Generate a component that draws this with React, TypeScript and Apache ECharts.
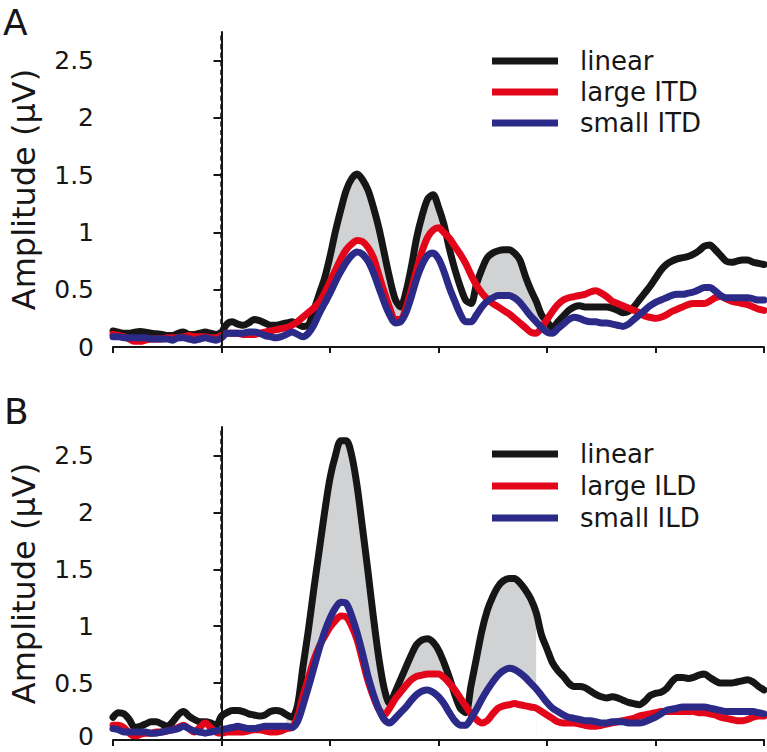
import React, { useEffect, useRef } from "react";
import * as echarts from "echarts";

// time axis (ms), sampled every 0.1 ms from -2 to 10
const time: number[] = Array.from({ length: 121 }, (_, i) => Math.round((-2 + i * 0.1) * 10) / 10);

// Panel A (ITD)
const linearA = [
  0.14, 0.13, 0.12, 0.12, 0.13, 0.135, 0.13, 0.12, 0.115, 0.11,
  0.10, 0.10, 0.12, 0.13, 0.11, 0.11, 0.12, 0.13, 0.12, 0.11,
  0.13, 0.20, 0.22, 0.20, 0.19, 0.21, 0.24, 0.23, 0.21, 0.19,
  0.19, 0.20, 0.21, 0.22, 0.20, 0.18, 0.19, 0.32, 0.46, 0.60,
  0.79, 1.01, 1.20, 1.37, 1.47, 1.51, 1.46, 1.37, 1.22, 1.04,
  0.82, 0.60, 0.42, 0.35, 0.48, 0.70, 0.96, 1.15, 1.29, 1.33,
  1.22, 1.07, 0.86, 0.68, 0.53, 0.41, 0.38, 0.55, 0.68, 0.78,
  0.82, 0.84, 0.85, 0.85, 0.82, 0.76, 0.62, 0.50, 0.40, 0.28,
  0.22, 0.17, 0.22, 0.27, 0.32, 0.35, 0.36, 0.35, 0.35, 0.35,
  0.35, 0.35, 0.34, 0.32, 0.30, 0.31, 0.35, 0.41, 0.47, 0.53,
  0.60, 0.67, 0.72, 0.75, 0.77, 0.78, 0.79, 0.81, 0.84, 0.88,
  0.89, 0.85, 0.80, 0.75, 0.74, 0.75, 0.76, 0.76, 0.74, 0.73,
  0.72,
];
const largeITD = [
  0.11, 0.10, 0.09, 0.07, 0.05, 0.05, 0.06, 0.07, 0.07, 0.07,
  0.08, 0.08, 0.08, 0.09, 0.10, 0.09, 0.09, 0.09, 0.08, 0.08,
  0.10, 0.12, 0.12, 0.12, 0.11, 0.11, 0.11, 0.12, 0.13, 0.14,
  0.15, 0.16, 0.17, 0.19, 0.22, 0.26, 0.30, 0.34, 0.39, 0.47,
  0.57, 0.67, 0.77, 0.85, 0.90, 0.93, 0.92, 0.87, 0.78, 0.63,
  0.48, 0.34, 0.24, 0.24, 0.34, 0.50, 0.68, 0.84, 0.96, 1.02,
  1.04, 1.00, 0.95, 0.88, 0.81, 0.73, 0.63, 0.54, 0.47, 0.42,
  0.38, 0.35, 0.32, 0.29, 0.25, 0.21, 0.17, 0.13, 0.12, 0.17,
  0.24, 0.31, 0.37, 0.41, 0.43, 0.44, 0.45, 0.46, 0.48, 0.49,
  0.47, 0.44, 0.40, 0.38, 0.36, 0.34, 0.32, 0.30, 0.27, 0.26,
  0.25, 0.26, 0.28, 0.31, 0.33, 0.35, 0.37, 0.38, 0.38, 0.38,
  0.40, 0.43, 0.44, 0.42, 0.40, 0.39, 0.38, 0.37, 0.35, 0.33,
  0.32,
];
const smallITD = [
  0.09, 0.09, 0.08, 0.08, 0.08, 0.08, 0.08, 0.07, 0.07, 0.07,
  0.07, 0.06, 0.08, 0.08, 0.07, 0.06, 0.07, 0.08, 0.07, 0.06,
  0.08, 0.12, 0.12, 0.12, 0.12, 0.13, 0.13, 0.12, 0.10, 0.09,
  0.08, 0.09, 0.11, 0.13, 0.11, 0.09, 0.12, 0.19, 0.29, 0.38,
  0.47, 0.57, 0.66, 0.74, 0.80, 0.83, 0.81, 0.75, 0.65, 0.52,
  0.39, 0.28, 0.21, 0.22, 0.30, 0.44, 0.60, 0.72, 0.80, 0.82,
  0.77, 0.66, 0.52, 0.40, 0.29, 0.22, 0.22, 0.28, 0.35, 0.40,
  0.43, 0.45, 0.45, 0.45, 0.43, 0.39, 0.33, 0.27, 0.22, 0.17,
  0.13, 0.12, 0.16, 0.20, 0.24, 0.26, 0.25, 0.23, 0.22, 0.22,
  0.21, 0.21, 0.20, 0.19, 0.18, 0.20, 0.24, 0.28, 0.32, 0.36,
  0.39, 0.41, 0.43, 0.45, 0.46, 0.46, 0.47, 0.48, 0.50, 0.52,
  0.52, 0.49, 0.45, 0.43, 0.43, 0.43, 0.43, 0.43, 0.42, 0.41,
  0.41,
];

// Panel B (ILD)
const linearB = [
  0.20, 0.24, 0.23, 0.18, 0.11, 0.12, 0.14, 0.16, 0.16, 0.14,
  0.12, 0.16, 0.22, 0.25, 0.21, 0.18, 0.16, 0.16, 0.15, 0.13,
  0.21, 0.24, 0.26, 0.26, 0.25, 0.23, 0.22, 0.21, 0.22, 0.25,
  0.26, 0.25, 0.22, 0.20, 0.30, 0.64, 0.96, 1.32, 1.66, 2.00,
  2.30, 2.50, 2.63, 2.63, 2.50, 2.23, 1.86, 1.48, 1.08, 0.72,
  0.45, 0.32, 0.42, 0.53, 0.64, 0.75, 0.84, 0.88, 0.89, 0.86,
  0.79, 0.68, 0.55, 0.40, 0.28, 0.24, 0.48, 0.72, 0.96, 1.14,
  1.26, 1.35, 1.40, 1.42, 1.42, 1.38, 1.32, 1.24, 1.12, 0.92,
  0.80, 0.68, 0.61, 0.56, 0.50, 0.47, 0.47, 0.46, 0.43, 0.40,
  0.38, 0.37, 0.38, 0.37, 0.35, 0.33, 0.32, 0.31, 0.34, 0.39,
  0.41, 0.42, 0.45, 0.51, 0.55, 0.55, 0.54, 0.55, 0.57, 0.58,
  0.55, 0.52, 0.50, 0.50, 0.50, 0.51, 0.52, 0.53, 0.51, 0.47,
  0.44,
];
const largeILD = [
  0.13, 0.13, 0.11, 0.06, 0.03, 0.05, 0.06, 0.06, 0.07, 0.07,
  0.08, 0.09, 0.11, 0.13, 0.10, 0.07, 0.11, 0.15, 0.11, 0.07,
  0.06, 0.07, 0.07, 0.07, 0.07, 0.08, 0.09, 0.09, 0.08, 0.07,
  0.07, 0.08, 0.10, 0.11, 0.20, 0.38, 0.54, 0.70, 0.82, 0.91,
  0.99, 1.05, 1.09, 1.08, 1.00, 0.88, 0.70, 0.52, 0.38, 0.27,
  0.22, 0.28, 0.36, 0.42, 0.48, 0.53, 0.56, 0.57, 0.58, 0.58,
  0.58, 0.55, 0.50, 0.44, 0.37, 0.30, 0.23, 0.18, 0.15, 0.17,
  0.23, 0.28, 0.30, 0.31, 0.32, 0.31, 0.30, 0.29, 0.28, 0.25,
  0.22, 0.19, 0.16, 0.15, 0.15, 0.15, 0.14, 0.13, 0.12, 0.12,
  0.13, 0.14, 0.15, 0.16, 0.17, 0.18, 0.19, 0.21, 0.22, 0.23,
  0.24, 0.25, 0.25, 0.25, 0.25, 0.25, 0.25, 0.25, 0.24, 0.24,
  0.23, 0.22, 0.20, 0.19, 0.18, 0.17, 0.17, 0.18, 0.20, 0.21,
  0.21,
];
const smallILD = [
  0.10, 0.09, 0.07, 0.07, 0.07, 0.07, 0.07, 0.06, 0.06, 0.07,
  0.08, 0.09, 0.10, 0.12, 0.10, 0.08, 0.07, 0.06, 0.07, 0.08,
  0.09, 0.10, 0.11, 0.12, 0.11, 0.10, 0.10, 0.11, 0.12, 0.12,
  0.12, 0.12, 0.12, 0.11, 0.16, 0.30, 0.46, 0.63, 0.80, 0.95,
  1.07, 1.16, 1.21, 1.20, 1.09, 0.94, 0.76, 0.56, 0.40, 0.27,
  0.18, 0.15, 0.19, 0.24, 0.29, 0.35, 0.40, 0.43, 0.44, 0.42,
  0.38, 0.32, 0.24, 0.17, 0.13, 0.13, 0.19, 0.27, 0.36, 0.44,
  0.51, 0.57, 0.61, 0.63, 0.62, 0.59, 0.55, 0.50, 0.45, 0.39,
  0.33, 0.28, 0.25, 0.22, 0.20, 0.19, 0.18, 0.17, 0.17, 0.16,
  0.15, 0.15, 0.16, 0.16, 0.16, 0.15, 0.15, 0.15, 0.16, 0.18,
  0.20, 0.23, 0.26, 0.27, 0.28, 0.29, 0.29, 0.29, 0.29, 0.29,
  0.28, 0.27, 0.26, 0.25, 0.25, 0.25, 0.25, 0.25, 0.25, 0.24,
  0.23,
];

// index windows (inclusive) of the shaded difference region
const shadeWindowA = [32, 80];
const shadeWindowB = [32, 78];

const onsetTime = 0;
const yTicks = [0, 0.5, 1, 1.5, 2, 2.5];
const namesA = ["linear", "large ITD", "small ITD"];
const namesB = ["linear", "large ILD", "small ILD"];

const FONT = "DejaVu Sans";
const BLACK = "#161616";
const RED = "#e3061b";
const BLUE = "#2b2a88";
const GRAY = "#d0d2d3";

function pairs(vals: number[]) {
  return vals.map((v, i) => [time[i], v]);
}

function shade(lin: number[], a: number[], b: number[], w: number[]) {
  const top: number[][] = [];
  const base: number[][] = [];
  for (let i = w[0]; i <= w[1]; i++) {
    top.push([time[i], lin[i]]);
    base.push([time[i], Math.max(a[i], b[i])]);
  }
  return { top, base };
}

// dashes of the onset line, in axis units (dash length and period along y)
function dashes(yMax: number, dash: number, period: number) {
  const out: any[] = [];
  for (let y = yMax; y > 0; y -= period) {
    out.push([onsetTime, y]);
    out.push([onsetTime, Math.max(0, y - dash)]);
    out.push([onsetTime, "-"]);
  }
  return out;
}

export default function App() {
  const ref = useRef<HTMLDivElement>(null);
  useEffect(() => {
    if (!ref.current) return;
    const chart = echarts.init(ref.current, null, { renderer: "svg" });
    const sA = shade(linearA, largeITD, smallITD, shadeWindowA);
    const sB = shade(linearB, largeILD, smallILD, shadeWindowB);
    const SMOOTH = 0.3;
    const LW = 7;
    const Y_MAX = 2.75;

    const xAxisBase = (gridIndex: number) => ({
      type: "value" as const,
      gridIndex,
      min: -2,
      max: 10,
      interval: 2,
      z: 10,
      axisLine: { show: true, lineStyle: { color: BLACK, width: 2 } },
      axisTick: { show: true, length: 6, lineStyle: { color: BLACK, width: 2 } },
      axisLabel: { show: false },
      splitLine: { show: false },
    });
    const yAxisBase = (gridIndex: number, liftZero: boolean) => ({
      type: "value" as const,
      gridIndex,
      min: 0,
      max: Y_MAX,
      z: 10,
      name: "Amplitude (µV)",
      nameLocation: "middle" as const,
      nameGap: 73,
      nameTextStyle: { fontFamily: FONT, fontSize: 32, color: BLACK },
      axisLine: { show: true, lineStyle: { color: BLACK, width: 2 } },
      axisTick: { show: true, length: 8, customValues: yTicks, lineStyle: { color: BLACK, width: 2 } },
      axisLabel: {
        customValues: yTicks,
        margin: 19,
        fontFamily: FONT,
        fontSize: 25,
        color: BLACK,
        formatter: (v: number) => (liftZero && v === 0 ? "{z|0}" : String(v)),
        rich: {
          z: { fontFamily: FONT, fontSize: 25, color: BLACK, padding: [0, 0, 7, 0] },
        },
      },
      splitLine: { show: false },
    });

    const lineSeries = (name: string, vals: number[], color: string, idx: number) => ({
      type: "line",
      name,
      xAxisIndex: idx,
      yAxisIndex: idx,
      data: pairs(vals),
      smooth: SMOOTH,
      showSymbol: false,
      symbol: "none",
      color,
      lineStyle: { color, width: LW, cap: "round", join: "round" },
      silent: true,
    });
    const areaSeries = (name: string, data: number[][], idx: number, fill: string) => ({
      type: "line",
      name,
      xAxisIndex: idx,
      yAxisIndex: idx,
      data,
      smooth: SMOOTH,
      showSymbol: false,
      symbol: "none",
      lineStyle: { width: 0, opacity: 0 },
      areaStyle: { color: fill, opacity: 1, origin: "start" },
      silent: true,
    });
    const onsetSeries = (idx: number) => ({
      type: "line",
      name: "onset" + idx,
      xAxisIndex: idx,
      yAxisIndex: idx,
      data: dashes(Y_MAX - 0.03, 0.045, 0.075),
      connectNulls: false,
      showSymbol: false,
      symbol: "none",
      lineStyle: { color: "#111111", width: 2.5, cap: "butt" },
      silent: true,
    });

    const legendBase = (top: number, data: string[], gap: number) => ({
      orient: "vertical" as const,
      left: 492,
      top,
      padding: 0,
      icon: "rect",
      itemWidth: 66,
      itemHeight: 7,
      itemGap: gap,
      selectedMode: false,
      data,
      textStyle: { fontFamily: FONT, fontSize: 26, color: BLACK, padding: [0, 0, 0, 17] },
    });

    chart.setOption({
      animation: false,
      backgroundColor: "#ffffff",
      textStyle: { fontFamily: FONT },
      grid: [
        { left: 110, top: 32, width: 654, height: 315 },
        { left: 110, top: 427, width: 654, height: 313 },
      ],
      xAxis: [xAxisBase(0), xAxisBase(1)],
      yAxis: [yAxisBase(0, false), yAxisBase(1, true)],
      legend: [legendBase(48, namesA, 5), legendBase(441, namesB, 6)],
      graphic: [
        { type: "text", left: 3, top: 4, style: { text: "A", fontFamily: FONT, fontSize: 36, fill: BLACK } },
        { type: "text", left: 4, top: 393, style: { text: "B", fontFamily: FONT, fontSize: 36, fill: BLACK } },
      ],
      series: [
        onsetSeries(0),
        areaSeries("shadeA", sA.top, 0, GRAY),
        areaSeries("maskA", sA.base, 0, "#ffffff"),
        lineSeries(namesA[0], linearA, BLACK, 0),
        lineSeries(namesA[1], largeITD, RED, 0),
        lineSeries(namesA[2], smallITD, BLUE, 0),
        onsetSeries(1),
        areaSeries("shadeB", sB.top, 1, GRAY),
        areaSeries("maskB", sB.base, 1, "#ffffff"),
        lineSeries(namesB[0], linearB, BLACK, 1),
        lineSeries(namesB[1], largeILD, RED, 1),
        lineSeries(namesB[2], smallILD, BLUE, 1),
      ],
    });
    return () => chart.dispose();
  }, []);
  return (
    <div
      ref={ref}
      style={{ position: "fixed", left: 0, top: 0, width: 767, height: 752, background: "#fff" }}
    />
  );
}
